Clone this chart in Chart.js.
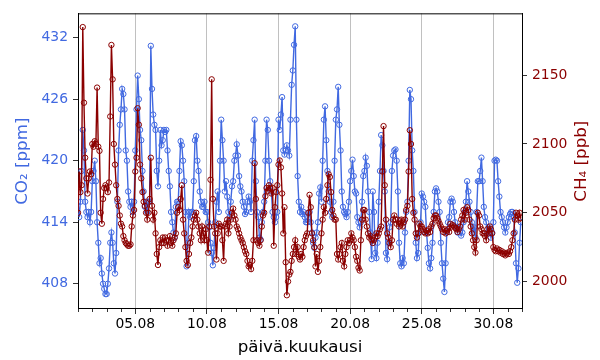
<!DOCTYPE html>
<html>
<head>
<meta charset="utf-8">
<script src="https://cdn.jsdelivr.net/npm/chart.js@4.4.1/dist/chart.umd.min.js"></script>
<style>
html, body { margin: 0; padding: 0; background: #fff; }
canvas { display: block; }
</style>
</head>
<body>
<canvas id="myChart" width="600" height="360"></canvas>
<script>
'use strict';

// 2-hourly readings, 1.8. - 31.8.
var firstDay = 1;
var stepHours = 2;

var co2 = [
    416, 414.5, 416, 419, 423, 421, 416, 415, 414.5, 415, 414, 415,        // 01.08
    418, 419, 420, 418, 414, 412, 410, 410.5, 409, 408, 407.5, 407,
    407, 408, 409.5, 412, 413, 412, 410, 409, 411, 416, 421, 423.5,
    425, 427, 426.5, 425, 421, 420, 417, 416, 415.5, 416, 415, 416,
    421, 425, 428.3, 426, 423, 422, 419, 417, 415.5, 416, 415, 416,        // 05.08
    416, 431.2, 427, 424.5, 423.5, 423, 419, 417.5, 420, 423, 421.5, 422,
    423, 422.8, 423, 421, 419, 417.5, 415, 414, 413, 412.5, 415.5, 416,
    416, 419, 421.9, 421.5, 420, 418, 415, 409.7, 412, 415, 414.5, 415,
    415, 418, 422, 422.4, 420, 419, 417, 416, 415.5, 415.5, 416, 415,
    415, 414, 413.5, 412, 411, 409.8, 411.5, 414, 416, 417, 415, 420,      // 10.08
    424, 422, 420, 417, 418, 416.5, 415, 414.5, 416, 417.5, 418, 420,
    420.5, 421.6, 420.5, 418.5, 417.5, 417, 416, 415.5, 414.8, 415, 416, 416.5,
    416, 415, 420, 422, 424, 418, 415, 414.5, 412.5, 412.3, 414, 415,
    416, 420, 424, 423, 420, 418, 417, 415, 414.5, 414, 414.5, 415,
    424, 423, 424.5, 426.2, 421, 420.6, 421, 421.5, 421, 420.5, 424, 427.4, // 15.08
    428.8, 431.3, 433.1, 424, 418.5, 416, 415, 415.5, 414.8, 415, 414.5, 414,
    414, 414.5, 415, 414, 413, 412, 411.5, 412.5, 413, 414, 416.8, 417.4,
    416, 420, 424, 425.3, 422, 419, 417, 416, 415, 414.5, 416, 420,
    424, 425, 427.2, 423.5, 421, 417, 415.5, 415, 414.8, 414.5, 415, 416,
    418, 419, 420.1, 418.5, 417, 416.8, 414.5, 414, 413.5, 414, 416, 418.5, // 20.08
    419, 420.3, 419.5, 417, 415, 413, 410.4, 417, 415, 411, 410.5, 412,
    416, 419, 422.5, 421.5, 419, 417, 411, 410.4, 412, 413.5, 414, 419,
    420.5, 421, 421.1, 420, 417, 412, 410, 409.7, 410.5, 410, 413, 415,
    416, 420, 426.9, 426, 421, 419, 415, 412, 410.5, 411, 413, 414,
    416.8, 416.5, 416, 415.5, 413, 411.5, 410, 409.5, 410.5, 412, 415, 417, // 25.08
    417.3, 417, 416, 415, 412, 410, 408.5, 407.2, 410, 413, 414, 414.5,
    416, 416.3, 416, 415, 414, 413.5, 413, 413.5, 413, 412.7, 413, 414,
    415, 416, 418, 417, 416, 415, 414, 413, 413.5, 412.5, 415, 418,
    418, 419, 420.3, 418, 415.5, 414.5, 414, 413, 413.5, 413, 412.5, 413,
    414, 420, 420.1, 420, 418, 416.5, 415, 414.5, 414, 413.5, 413, 413.5,   // 30.08
    414, 414.5, 414.8, 415, 415, 414.5, 413, 410, 408.1, 409.5, 412, 414
];

var ch4 = [
    2050, 2080, 2065, 2070, 2185, 2130, 2090, 2075, 2064, 2075, 2080, 2078,   // 01.08
    2100, 2098, 2102, 2100, 2141, 2098, 2095, 2050, 2042, 2060, 2068, 2070,
    2068, 2065, 2072, 2120, 2172, 2147, 2100, 2085, 2070, 2060, 2055, 2048,
    2042, 2040, 2033, 2030, 2028, 2027, 2026, 2026, 2027, 2040, 2048, 2052,
    2080, 2090, 2126, 2114, 2085, 2075, 2065, 2058, 2055, 2050, 2045, 2050,   // 05.08
    2060, 2090, 2055, 2045, 2050, 2035, 2020, 2012, 2025, 2030, 2028, 2032,
    2028, 2032, 2030, 2026, 2030, 2033, 2028, 2026, 2030, 2032, 2035, 2050,
    2054, 2052, 2060, 2070, 2045, 2035, 2025, 2015, 2012, 2020, 2028, 2032,
    2040, 2045, 2048, 2050, 2045, 2040, 2035, 2030, 2040, 2035, 2030, 2038,
    2030, 2021, 2040, 2074, 2147, 2060, 2040, 2035, 2016, 2035, 2042, 2040,   // 10.08
    2040, 2030, 2015, 2040, 2042, 2045, 2035, 2040, 2045, 2050, 2053, 2048,
    2045, 2040, 2038, 2035, 2032, 2030, 2028, 2025, 2022, 2020, 2015, 2011,
    2012, 2009, 2015, 2030, 2086, 2060, 2030, 2028, 2026, 2030, 2040, 2048,
    2050, 2062, 2068, 2066, 2070, 2068, 2064, 2068, 2026, 2054, 2065, 2070,
    2085, 2088, 2083, 2064, 2035, 2054, 2014, 1990, 2000, 2005, 2007, 2015,   // 15.08
    2020, 2025, 2030, 2020, 2025, 2018, 2016, 2020, 2018, 2025, 2030, 2033,
    2035, 2050, 2063, 2054, 2035, 2030, 2025, 2011, 2020, 2007, 2015, 2025,
    2035, 2045, 2054, 2050, 2060, 2070, 2078, 2076, 2065, 2052, 2048, 2045,
    2045, 2020, 2016, 2020, 2025, 2028, 2015, 2011, 2020, 2025, 2030, 2028,
    2030, 2035, 2032, 2030, 2025, 2018, 2015, 2010, 2008, 2030, 2045, 2052,   // 20.08
    2052, 2045, 2040, 2035, 2032, 2033, 2030, 2028, 2030, 2032, 2035, 2033,
    2035, 2038, 2040, 2080, 2113, 2070, 2045, 2035, 2032, 2028, 2025, 2030,
    2045, 2048, 2045, 2042, 2045, 2040, 2042, 2045, 2040, 2043, 2045, 2052,
    2055, 2080, 2110, 2100, 2060, 2050, 2045, 2035, 2032, 2035, 2042, 2040,
    2040, 2038, 2036, 2035, 2037, 2035, 2038, 2036, 2040, 2042, 2046, 2048,   // 25.08
    2048, 2046, 2044, 2042, 2040, 2038, 2036, 2038, 2035, 2037, 2038, 2036,
    2042, 2040, 2041, 2040, 2039, 2038, 2036, 2038, 2040, 2045, 2048, 2052,
    2045, 2050, 2054, 2052, 2045, 2040, 2035, 2030, 2025, 2021, 2030, 2050,
    2048, 2040, 2038, 2035, 2035, 2033, 2030, 2038, 2035, 2040, 2038, 2035,
    2025, 2023, 2022, 2024, 2022, 2023, 2021, 2022, 2020, 2021, 2019, 2020,   // 30.08
    2021, 2020, 2022, 2025, 2030, 2035, 2045, 2050, 2048, 2045, 2050, 2046
];

var dayTicks = [5, 10, 15, 20, 25, 30];
var co2Ticks = [408, 414, 420, 426, 432];
var ch4Ticks = [2000, 2050, 2100, 2150];

var blue = '#4169E1';
var red = '#8B0000';
var font = '"DejaVu Sans", sans-serif';

var times = [];
for (var i = 0; i < co2.length; i++) {
    times.push(firstDay + i * stepHours / 24);
}

function toPoints(values) {
    return values.map(function (v, i) {
        return { x: times[i], y: v };
    });
}

function dayLabel(d) {
    return (d < 10 ? '0' : '') + d + '.08';
}

function fixedTicks(list) {
    return function (scale) {
        scale.ticks = list.map(function (v) { return { value: v }; });
    };
}

// top spine, minor day ticks, right axis title
var framePlugin = {
    id: 'frame',
    afterDraw: function (chart) {
        var ctx = chart.ctx;
        var area = chart.chartArea;
        var xs = chart.scales.x;
        ctx.save();
        ctx.strokeStyle = '#000';
        ctx.lineWidth = 1;
        ctx.beginPath();
        ctx.moveTo(area.left, area.top + 0.5);
        ctx.lineTo(area.right, area.top + 0.5);
        ctx.stroke();

        ctx.lineWidth = 0.8;
        for (var d = 1; d <= 32; d++) {
            if (dayTicks.indexOf(d) >= 0) continue;
            var px = Math.round(xs.getPixelForValue(d)) + 0.5;
            ctx.beginPath();
            ctx.moveTo(px, area.bottom);
            ctx.lineTo(px, area.bottom + 3);
            ctx.stroke();
        }

        var ys = chart.scales.y2;
        ctx.translate(ys.right - 18, (area.top + area.bottom) / 2);
        ctx.rotate(-Math.PI / 2);
        ctx.font = '16.7px ' + font;
        ctx.fillStyle = red;
        ctx.textAlign = 'center';
        ctx.textBaseline = 'middle';
        ctx.fillText('CH\u2084 [ppb]', 0, 0);
        ctx.restore();
    }
};

var ctx = document.getElementById('myChart').getContext('2d');
var chart = new Chart(ctx, {
    type: 'line',
    data: {
        datasets: [{
            label: 'CH4',
            data: toPoints(ch4),
            yAxisID: 'y2',
            borderColor: red,
            backgroundColor: 'rgba(0,0,0,0)',
            borderWidth: 1.4,
            pointRadius: 2.7,
            pointBorderWidth: 1,
            pointBorderColor: red,
            pointBackgroundColor: 'rgba(0,0,0,0)',
            tension: 0,
            order: 0
        },
        {
            label: 'CO2',
            data: toPoints(co2),
            yAxisID: 'y',
            borderColor: blue,
            backgroundColor: 'rgba(0,0,0,0)',
            borderWidth: 1.4,
            pointRadius: 2.7,
            pointBorderWidth: 1,
            pointBorderColor: blue,
            pointBackgroundColor: 'rgba(0,0,0,0)',
            tension: 0,
            order: 1
        }]
    },
    options: {
        responsive: false,
        animation: false,
        devicePixelRatio: 1,
        events: [],
        layout: { padding: { top: 8, left: 0, right: 0, bottom: 0 } },
        plugins: {
            legend: { display: false },
            tooltip: { enabled: false }
        },
        scales: {
            x: {
                type: 'linear',
                min: 1,
                max: 32,
                afterBuildTicks: fixedTicks(dayTicks),
                afterFit: function (s) { s.height = 51; },
                grid: {
                    color: '#b0b0b0',
                    lineWidth: 0.8,
                    tickColor: '#000',
                    tickLength: 5,
                    tickWidth: 0.8
                },
                border: { display: true, color: '#000', width: 1 },
                ticks: {
                    color: '#000',
                    font: { family: font, size: 13.9 },
                    padding: 2,
                    maxRotation: 0,
                    callback: function (v) { return dayLabel(v); }
                },
                title: {
                    display: true,
                    text: 'päivä.kuukausi',
                    color: '#000',
                    font: { family: font, size: 16.7, lineHeight: 1.2 },
                    padding: { top: 0, bottom: 2 }
                }
            },
            y: {
                position: 'left',
                min: 405.54,
                max: 434.37,
                afterBuildTicks: fixedTicks(co2Ticks),
                afterFit: function (s) { s.width = 78; },
                grid: {
                    drawOnChartArea: false,
                    tickColor: '#000',
                    tickLength: 5,
                    tickWidth: 0.8
                },
                border: { display: true, color: '#000', width: 1 },
                ticks: {
                    color: blue,
                    font: { family: font, size: 13.9 },
                    padding: 5,
                    callback: function (v) { return String(v); }
                },
                title: {
                    display: true,
                    text: 'CO\u2082 [ppm]',
                    color: blue,
                    font: { family: font, size: 16.7, lineHeight: 1.2 },
                    padding: { top: 13, bottom: 0 }
                }
            },
            y2: {
                position: 'right',
                min: 1980,
                max: 2195,
                afterBuildTicks: fixedTicks(ch4Ticks),
                afterFit: function (s) { s.width = 78; },
                grid: {
                    drawOnChartArea: false,
                    tickColor: '#000',
                    tickLength: 5,
                    tickWidth: 0.8
                },
                border: { display: true, color: '#000', width: 1 },
                ticks: {
                    color: red,
                    font: { family: font, size: 13.9 },
                    padding: 5,
                    callback: function (v) { return String(v); }
                }
            }
        }
    },
    plugins: [framePlugin]
});
</script>
</body>
</html>
